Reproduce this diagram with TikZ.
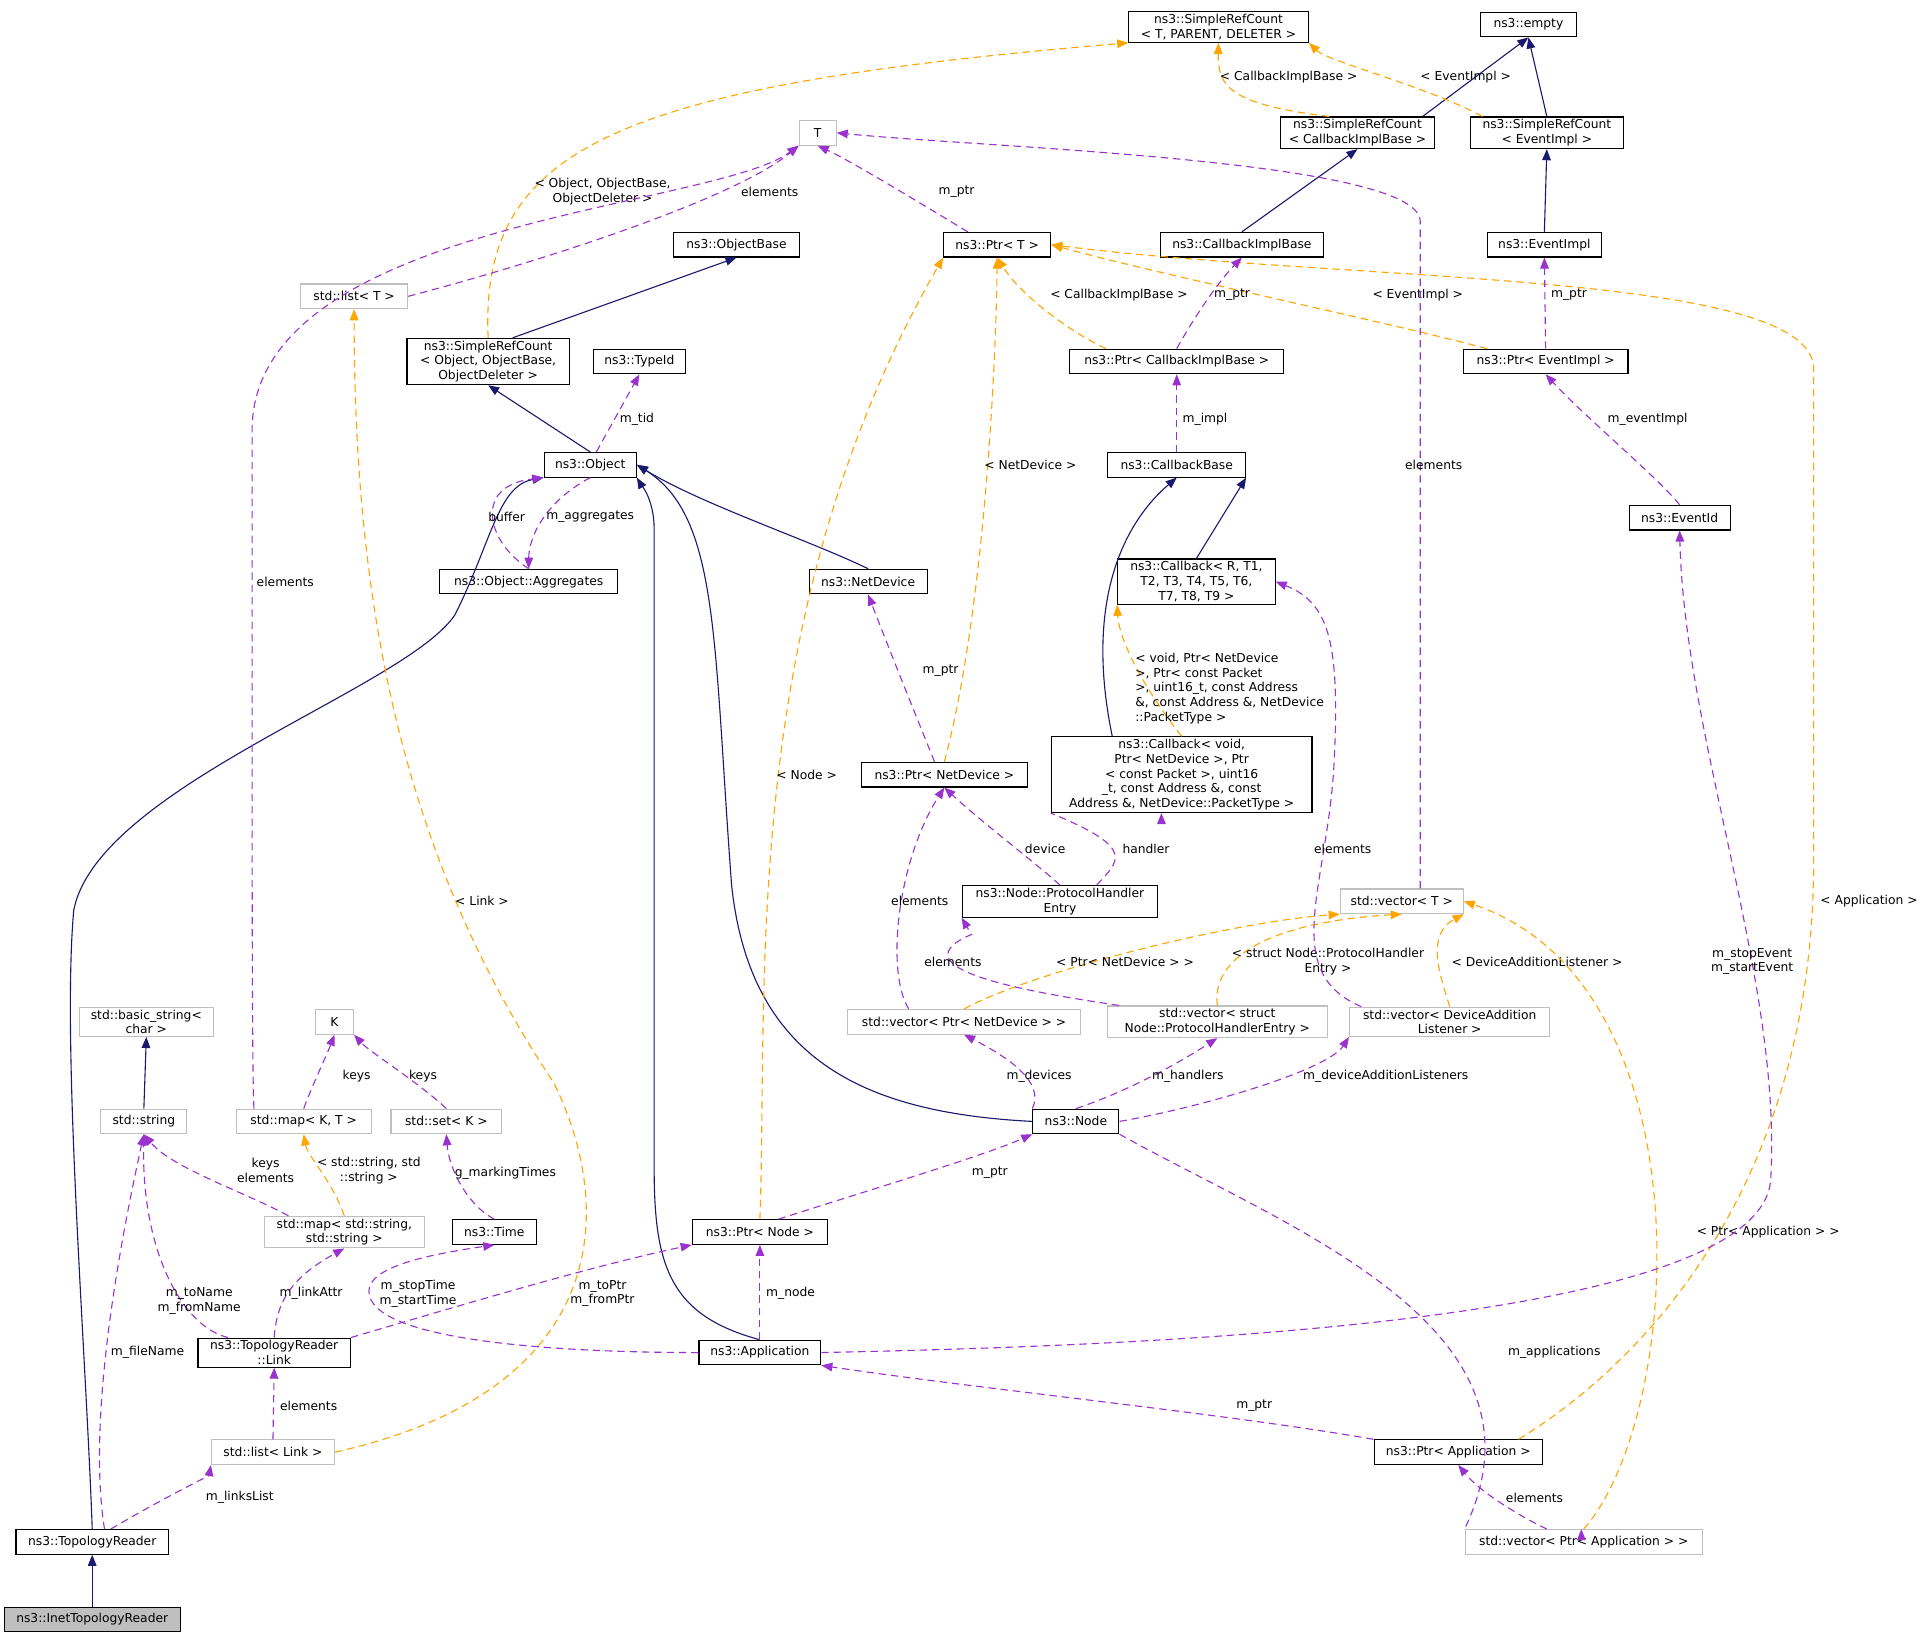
\documentclass[tikz,border=0pt]{standalone}
\usepackage{fontspec}
\setmainfont{DejaVu Sans}
\usetikzlibrary{arrows.meta}
\definecolor{inhcol}{HTML}{191970}
\definecolor{usecol}{HTML}{9A32CD}
\definecolor{tplcol}{HTML}{FFA500}
\definecolor{boxgray}{HTML}{BFBFBF}
\tikzset{
  cls/.style={draw=black,fill=white,line width=0.9pt,inner sep=2pt,minimum height=20pt,align=center,font=\fontsize{10}{12}\selectfont},
  ext/.style={cls,draw=boxgray},
  cur/.style={cls,fill=boxgray},
  lbl/.style={inner sep=1pt,align=center,font=\fontsize{10}{12}\selectfont},
  inh/.style={draw=inhcol,line width=0.9pt,-{Triangle[length=9pt,width=7pt]}},
  use/.style={draw=usecol,line width=0.9pt,dash pattern=on 6pt off 4pt,-{Triangle[length=9pt,width=7pt]}},
  tpl/.style={draw=tplcol,line width=0.9pt,dash pattern=on 6pt off 4pt,-{Triangle[length=9pt,width=7pt]}}
}
\begin{document}
\begin{tikzpicture}[x=1pt,y=-1pt]
  \useasboundingbox[fill=white] (0,0) rectangle (1568,1334);
  % classes
  \node[cls,minimum width=146pt] (srcT) at (991,22) {ns3::SimpleRefCount\\< T, PARENT, DELETER >};
  \node[cls,minimum width=78pt] (empty) at (1243,20) {ns3::empty};
  \node[cls,minimum width=125pt] (srcCb) at (1104,108) {ns3::SimpleRefCount\\< CallbackImplBase >};
  \node[cls,minimum width=124pt] (srcEv) at (1258,108) {ns3::SimpleRefCount\\< EventImpl >};
  \node[ext,minimum width=30pt] (T) at (665,108) {T};
  \node[cls,minimum width=102pt] (objbase) at (599,199) {ns3::ObjectBase};
  \node[cls,minimum width=87pt] (ptrT) at (811,199) {ns3::Ptr< T >};
  \node[cls,minimum width=132pt] (cbimpl) at (1010,199) {ns3::CallbackImplBase};
  \node[cls,minimum width=93pt] (evimpl) at (1256,199) {ns3::EventImpl};
  \node[ext,minimum width=87pt] (listT) at (288,241) {std::list< T >};
  \node[cls,minimum width=132pt] (srcObj) at (397,294) {ns3::SimpleRefCount\\< Object, ObjectBase,\\ObjectDeleter >};
  \node[cls,minimum width=75pt] (typeid) at (520,294) {ns3::TypeId};
  \node[cls,minimum width=174pt] (ptrCb) at (957,294) {ns3::Ptr< CallbackImplBase >};
  \node[cls,minimum width=134pt] (ptrEv) at (1257,294) {ns3::Ptr< EventImpl >};
  \node[cls,minimum width=75pt] (object) at (480,378) {ns3::Object};
  \node[cls,minimum width=112pt] (cbbase) at (957,378) {ns3::CallbackBase};
  \node[cls,minimum width=82pt] (evid) at (1366,421) {ns3::EventId};
  \node[cls,minimum width=145pt] (aggr) at (430,473) {ns3::Object::Aggregates};
  \node[cls,minimum width=96pt] (netdev) at (706,473) {ns3::NetDevice};
  \node[cls,minimum width=128pt] (cbR) at (973,473) {ns3::Callback< R, T1,\\T2, T3, T4, T5, T6,\\T7, T8, T9 >};
  \node[cls,minimum width=212pt] (cbVoid) at (961,630) {ns3::Callback< void,\\Ptr< NetDevice >, Ptr\\< const Packet >, uint16\\\_t, const Address \&, const\\Address \&, NetDevice::PacketType >};
  \node[cls,minimum width=135pt] (ptrNd) at (768,630) {ns3::Ptr< NetDevice >};
  \node[cls,minimum width=159pt] (phe) at (862,733) {ns3::Node::ProtocolHandler\\Entry};
  \node[ext,minimum width=100pt] (vecT) at (1140,733) {std::vector< T >};
  \node[ext,minimum width=109pt] (bstr) at (119,831) {std::basic\_string<\\char >};
  \node[ext,minimum width=189pt] (vecNd) at (784,831) {std::vector< Ptr< NetDevice > >};
  \node[ext,minimum width=179pt] (vecPhe) at (990,831) {std::vector< struct\\Node::ProtocolHandlerEntry >};
  \node[ext,minimum width=163pt] (vecDal) at (1179,831) {std::vector< DeviceAddition\\Listener >};
  \node[ext,minimum width=31pt] (K) at (272,831) {K};
  \node[ext,minimum width=70pt] (string) at (117,912) {std::string};
  \node[ext,minimum width=110pt] (mapKT) at (247,912) {std::map< K, T >};
  \node[ext,minimum width=90pt] (setK) at (363,912) {std::set< K >};
  \node[cls,minimum width=70pt] (node) at (875,912) {ns3::Node};
  \node[ext,minimum width=130pt] (mapSS) at (280,1002) {std::map< std::string,\\std::string >};
  \node[cls,minimum width=68pt] (time) at (402,1002) {ns3::Time};
  \node[cls,minimum width=110pt] (ptrNode) at (618,1002) {ns3::Ptr< Node >};
  \node[cls,minimum width=124pt] (link) at (223,1100) {ns3::TopologyReader\\::Link};
  \node[cls,minimum width=99pt] (app) at (618,1100) {ns3::Application};
  \node[ext,minimum width=100pt] (listLink) at (222,1181) {std::list< Link >};
  \node[cls,minimum width=137pt] (ptrApp) at (1186,1181) {ns3::Ptr< Application >};
  \node[cls,minimum width=124pt] (topo) at (75,1254) {ns3::TopologyReader};
  \node[ext,minimum width=193pt] (vecApp) at (1288,1254) {std::vector< Ptr< Application > >};
  \node[cur,minimum width=143pt] (inet) at (75,1317) {ns3::InetTopologyReader};
  % inheritance
  \draw[inh] (srcCb.north east) ++(-10,0) -- (empty.south);
  \draw[inh] (srcEv.north) -- (empty.south);
  \draw[inh] (cbimpl.north) -- (srcCb.south);
  \draw[inh] (evimpl.north) -- (srcEv.south);
  \draw[inh] (srcObj.north) ++(20,0) -- (objbase.south);
  \draw[inh] (object.north) -- (srcObj.south);
  \draw[inh] (netdev.north) .. controls (660,440) and (570,410) .. (object.east);
  \draw[inh] (node.west) .. controls (700,905) and (610,860) .. (595,720) .. controls (580,520) and (585,420) .. (object.east);
  \draw[inh] (app.north) .. controls (545,1070) and (532,1030) .. (532,950) -- (532,430) .. controls (532,405) and (520,392) .. (object.south east);
  \draw[inh] (topo.north) .. controls (70,1100) and (50,850) .. (60,740) .. controls (80,640) and (330,560) .. (370,500) .. controls (400,440) and (405,395) .. (object.south west);
  \draw[inh] (cbR.north) -- (cbbase.south east);
  \draw[inh] (cbVoid.north west) ++(50,0) .. controls (880,480) and (920,420) .. (cbbase.south);
  \draw[inh] (string.north) -- (bstr.south);
  \draw[inh] (inet.north) -- (topo.south);
  % template instances
  \draw[tpl] (srcCb.north west) ++(40,0) .. controls (1000,85) and (990,70) .. (srcT.south);
  \node[lbl] (l1) at (1048,63) {< CallbackImplBase >};
  \draw[tpl] (srcEv.north west) ++(10,0) .. controls (1160,70) and (1080,50) .. (srcT.south east);
  \node[lbl] (l2) at (1192,63) {< EventImpl >};
  \draw[tpl] (srcObj.north) .. controls (390,120) and (500,70) .. (srcT.south west);
  \node[lbl] (l3) at (490,156) {< Object, ObjectBase,\\ObjectDeleter >};
  \draw[tpl] (ptrCb.north west) ++(30,0) .. controls (870,270) and (830,240) .. (ptrT.south);
  \node[lbl] (l4) at (910,240) {< CallbackImplBase >};
  \draw[tpl] (ptrEv.north west) ++(20,0) .. controls (1120,260) and (950,225) .. (ptrT.east);
  \node[lbl] (l5) at (1153,240) {< EventImpl >};
  \draw[tpl] (ptrNd.north) .. controls (800,500) and (810,300) .. (ptrT.south);
  \node[lbl] (l6) at (838,378) {< NetDevice >};
  \draw[tpl] (ptrNode.north) .. controls (625,800) and (600,500) .. (ptrT.south west);
  \node[lbl] (l7) at (656,630) {< Node >};
  \draw[tpl] (ptrApp.north east) ++(-20,0) .. controls (1350,1100) and (1475,950) .. (1475,700) -- (1475,300) .. controls (1475,220) and (1100,230) .. (ptrT.east);
  \node[lbl] (l8) at (1520,733) {< Application >};
  \draw[tpl] (listLink.east) .. controls (500,1130) and (500,980) .. (450,880) .. controls (330,700) and (288,500) .. (listT.south);
  \node[lbl] (l9) at (392,733) {< Link >};
  \draw[tpl] (mapSS.north) .. controls (270,960) and (250,940) .. (mapKT.south);
  \node[lbl] (l10) at (300,952) {< std::string, std\\::string >};
  \draw[tpl] (cbVoid.north) .. controls (930,560) and (910,520) .. (cbR.south west);
  \node[lbl,align=left] (l11) at (1000,560) {< void, Ptr< NetDevice\\>, Ptr< const Packet\\>, uint16\_t, const Address\\\&, const Address \&, NetDevice\\::PacketType >};
  \draw[tpl] (vecNd.north) .. controls (840,790) and (1000,750) .. (vecT.south west);
  \node[lbl] (l12) at (915,782) {< Ptr< NetDevice > >};
  \draw[tpl] (vecPhe.north) .. controls (985,780) and (1030,750) .. (vecT.south);
  \node[lbl] (l13) at (1080,782) {< struct Node::ProtocolHandler\\Entry >};
  \draw[tpl] (vecDal.north) .. controls (1170,790) and (1160,760) .. (vecT.south east);
  \node[lbl] (l14) at (1250,782) {< DeviceAdditionListener >};
  \draw[tpl] (vecApp.north) .. controls (1370,1150) and (1390,800) .. (vecT.east);
  \node[lbl] (l15) at (1438,1002) {< Ptr< Application > >};
  % members
  \draw[use] (ptrT.north west) ++(20,0) .. controls (740,160) and (690,130) .. (T.south);
  \node[lbl] (l16) at (778,156) {m\_ptr};
  \draw[use] (listT.east) .. controls (450,210) and (600,160) .. (T.south west);
  \node[lbl] (l17) at (626,156) {elements};
  \draw[use] (mapKT.north west) ++(15,0) .. controls (205,880) and (205,700) .. (205,500) -- (205,350) .. controls (205,180) and (580,170) .. (T.south west);
  \node[lbl] (l18) at (232,473) {elements};
  \draw[use] (vecT.north) ++(15,0) -- (1155,180) .. controls (1155,130) and (800,120) .. (T.east);
  \node[lbl] (l19) at (1166,378) {elements};
  \draw[use] (ptrCb.north) .. controls (970,260) and (990,230) .. (cbimpl.south);
  \node[lbl] (l20) at (1002,240) {m\_ptr};
  \draw[use] (ptrEv.north) -- (evimpl.south);
  \node[lbl] (l21) at (1276,240) {m\_ptr};
  \draw[use] (object.north) ++(5,0) -- (typeid.south);
  \node[lbl] (l22) at (518,341) {m\_tid};
  \draw[use] (cbbase.north) -- (ptrCb.south);
  \node[lbl] (l23) at (980,341) {m\_impl};
  \draw[use] (evid.north) .. controls (1350,390) and (1290,340) .. (ptrEv.south);
  \node[lbl] (l24) at (1340,341) {m\_eventImpl};
  \draw[use] (aggr.north) .. controls (395,440) and (385,395) .. (object.south west);
  \node[lbl] (l25) at (412,420) {buffer};
  \draw[use] (object.south) .. controls (440,410) and (430,440) .. (aggr.north);
  \node[lbl] (l26) at (480,420) {m\_aggregates};
  \draw[use] (ptrNd.north west) ++(60,0) .. controls (740,570) and (720,520) .. (netdev.south);
  \node[lbl] (l27) at (765,545) {m\_ptr};
  \draw[use] (phe.north) .. controls (840,700) and (800,670) .. (ptrNd.south);
  \node[lbl] (l28) at (850,690) {device};
  \draw[use] (phe.north east) ++(-50,0) .. controls (910,700) and (925,690) .. (cbVoid.south west) ++(90,0);
  \node[lbl] (l29) at (932,690) {handler};
  \draw[use] (vecNd.north west) ++(50,0) .. controls (720,790) and (730,700) .. (ptrNd.south);
  \node[lbl] (l30) at (748,733) {elements};
  \draw[use] (vecPhe.north west) ++(10,0) .. controls (860,810) and (720,790) .. (790,760) -- (phe.south west);
  \node[lbl] (l31) at (775,782) {elements};
  \draw[use] (vecDal.north west) ++(10,0) .. controls (1040,790) and (1080,720) .. (1085,620) .. controls (1090,520) and (1080,490) .. (cbR.east);
  \node[lbl] (l32) at (1092,690) {elements};
  \draw[use] (node.north west) .. controls (850,880) and (820,860) .. (vecNd.south);
  \node[lbl] (l33) at (845,875) {m\_devices};
  \draw[use] (node.north) .. controls (910,890) and (950,870) .. (vecPhe.south);
  \node[lbl] (l34) at (966,875) {m\_handlers};
  \draw[use] (node.east) .. controls (980,900) and (1080,870) .. (vecDal.south west);
  \node[lbl] (l35) at (1127,875) {m\_deviceAdditionListeners};
  \draw[use] (mapKT.north) .. controls (255,880) and (265,860) .. (K.south);
  \node[lbl] (l36) at (290,875) {keys};
  \draw[use] (setK.north) .. controls (340,880) and (300,855) .. (K.south east);
  \node[lbl] (l37) at (344,875) {keys};
  \draw[use] (mapSS.north west) ++(20,0) .. controls (200,970) and (140,950) .. (string.south);
  \node[lbl] (l38) at (216,952) {keys\\elements};
  \draw[use] (time.north) .. controls (380,980) and (365,950) .. (setK.south);
  \node[lbl] (l39) at (411,954) {g\_markingTimes};
  \draw[use] (ptrNode.north) ++(15,0) .. controls (700,970) and (800,940) .. (node.south west);
  \node[lbl] (l40) at (805,954) {m\_ptr};
  \draw[use] (link.north west) ++(25,0) .. controls (150,1080) and (115,1020) .. (string.south);
  \node[lbl] (l41) at (162,1058) {m\_toName\\m\_fromName};
  \draw[use] (link.north) .. controls (225,1060) and (235,1040) .. (mapSS.south);
  \node[lbl] (l42) at (253,1052) {m\_linkAttr};
  \draw[use] (link.north east) .. controls (380,1060) and (480,1030) .. (ptrNode.south west);
  \node[lbl] (l43) at (490,1052) {m\_toPtr\\m\_fromPtr};
  \draw[use] (app.west) .. controls (450,1100) and (300,1090) .. (300,1050) .. controls (300,1030) and (350,1020) .. (time.south);
  \node[lbl] (l44) at (340,1052) {m\_stopTime\\m\_startTime};
  \draw[use] (app.north) -- (ptrNode.south);
  \node[lbl] (l45) at (643,1052) {m\_node};
  \draw[use] (app.east) .. controls (900,1095) and (1430,1080) .. (1440,960) .. controls (1450,800) and (1370,600) .. (evid.south);
  \node[lbl] (l46) at (1425,782) {m\_stopEvent\\m\_startEvent};
  \draw[use] (node.south east) .. controls (1050,1000) and (1270,1080) .. (vecApp.north west) ++(95,0);
  \node[lbl] (l47) at (1264,1100) {m\_applications};
  \draw[use] (ptrApp.north west) .. controls (1000,1150) and (800,1130) .. (app.south east);
  \node[lbl] (l48) at (1020,1143) {m\_ptr};
  \draw[use] (vecApp.north) ++(-30,0) .. controls (1240,1235) and (1205,1215) .. (ptrApp.south);
  \node[lbl] (l49) at (1248,1218) {elements};
  \draw[use] (listLink.north) -- (link.south);
  \node[lbl] (l50) at (251,1143) {elements};
  \draw[use] (topo.north) ++(10,0) .. controls (70,1150) and (100,1000) .. (string.south);
  \node[lbl] (l51) at (120,1100) {m\_fileName};
  \draw[use] (topo.north) ++(15,0) .. controls (130,1220) and (170,1200) .. (listLink.south west);
  \node[lbl] (l52) at (195,1218) {m\_linksList};
\end{tikzpicture}
\end{document}
